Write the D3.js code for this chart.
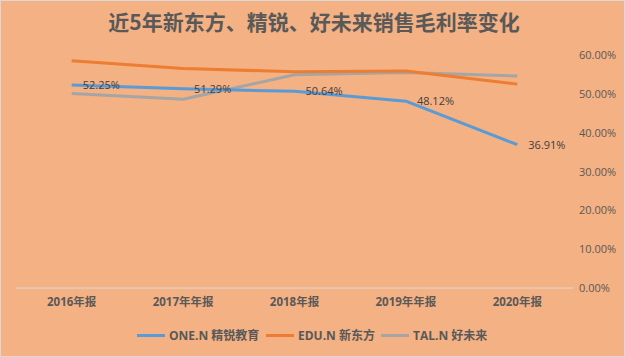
<!DOCTYPE html>
<html><head><meta charset="utf-8">
<script src="https://cdn.jsdelivr.net/npm/d3@7"></script>
<style>html,body{margin:0;padding:0;background:#fff}svg{display:block}</style>
</head><body>
<script>
const categories = ["2016年报","2017年年报","2018年报","2019年年报","2020年报"];
const seriesNames = ["ONE.N 精锐教育","EDU.N 新东方","TAL.N 好未来"];
const oneValues = [52.25, 51.29, 50.64, 48.12, 36.91];
const eduValues = [58.5, 56.5, 55.7, 55.9, 52.5];
const talValues = [50.1, 48.6, 54.9, 55.5, 54.6];
const yTicks = [0,10,20,30,40,50,60];
const colors = ["#5B9BD5","#ED7D31","#A5A5A5"];
const title = "近5年新东方、精锐、好未来销售毛利率变化";

const W=625,H=357;
const font = "'Open Sans', 'Noto Sans CJK SC', sans-serif";
const svg=d3.select("body").append("svg").attr("width",W).attr("height",H);
svg.append("rect").attr("x",0.5).attr("y",0.5).attr("width",W-1).attr("height",H-1)
  .attr("fill","#F4B183").attr("stroke","#D9D9D9");

svg.append("text").attr("x",314).attr("y",30).attr("text-anchor","middle")
  .attr("font-family","'Noto Sans CJK SC', sans-serif").attr("font-weight","bold")
  .attr("font-size",21).attr("fill","#595959").text(title);

const x=d3.scaleBand().domain(categories).range([16,573]);
const y=d3.scaleLinear().domain([0,60]).range([288,55]);

svg.append("line").attr("x1",16).attr("x2",573).attr("y1",y(0)).attr("y2",y(0))
  .attr("stroke","#D9D9D9").attr("stroke-width",1);

const yAxis=d3.axisRight(y).tickValues(yTicks).tickSize(0).tickPadding(0)
  .tickFormat(d=>d.toFixed(2)+"%");
const ga=svg.append("g").attr("transform","translate(579,0)").call(yAxis);
ga.select(".domain").remove();
ga.selectAll("text").attr("font-family",font).attr("font-size",11).attr("fill","#595959");

const xAxis=d3.axisBottom(x).tickSize(0).tickPadding(0);
const gx=svg.append("g").attr("transform","translate(0,298)").call(xAxis);
gx.select(".domain").remove();
gx.selectAll("text").attr("font-family",font).attr("font-weight","bold").attr("font-size",11.5).attr("fill","#595959");

const line=d3.line().x((d,i)=>x(categories[i])+x.bandwidth()/2).y(d=>y(d));
const data=[oneValues,eduValues,talValues];
[2,1,0].forEach(k=>{
  svg.append("path").datum(data[k]).attr("d",line).attr("fill","none")
    .attr("stroke",colors[k]).attr("stroke-width",3).attr("stroke-linejoin","round");
});

svg.selectAll(".dl").data(oneValues).enter().append("text")
  .attr("x",(d,i)=>x(categories[i])+x.bandwidth()/2+11)
  .attr("y",d=>y(d)).attr("dy","0.35em")
  .attr("font-family",font).attr("font-size",11).attr("fill","#404040")
  .text(d=>d.toFixed(2)+"%");

const legend=[{x:137,tx:169},{x:266,tx:298},{x:381,tx:413}];
legend.forEach((l,k)=>{
  svg.append("line").attr("x1",l.x).attr("x2",l.x+28).attr("y1",335.5).attr("y2",335.5)
    .attr("stroke",colors[k]).attr("stroke-width",3);
  svg.append("text").attr("x",l.tx).attr("y",335.5).attr("dy","0.35em")
    .attr("font-family",font).attr("font-weight","bold").attr("font-size",12)
    .attr("fill","#595959").text(seriesNames[k]);
});
</script>
</body></html>
